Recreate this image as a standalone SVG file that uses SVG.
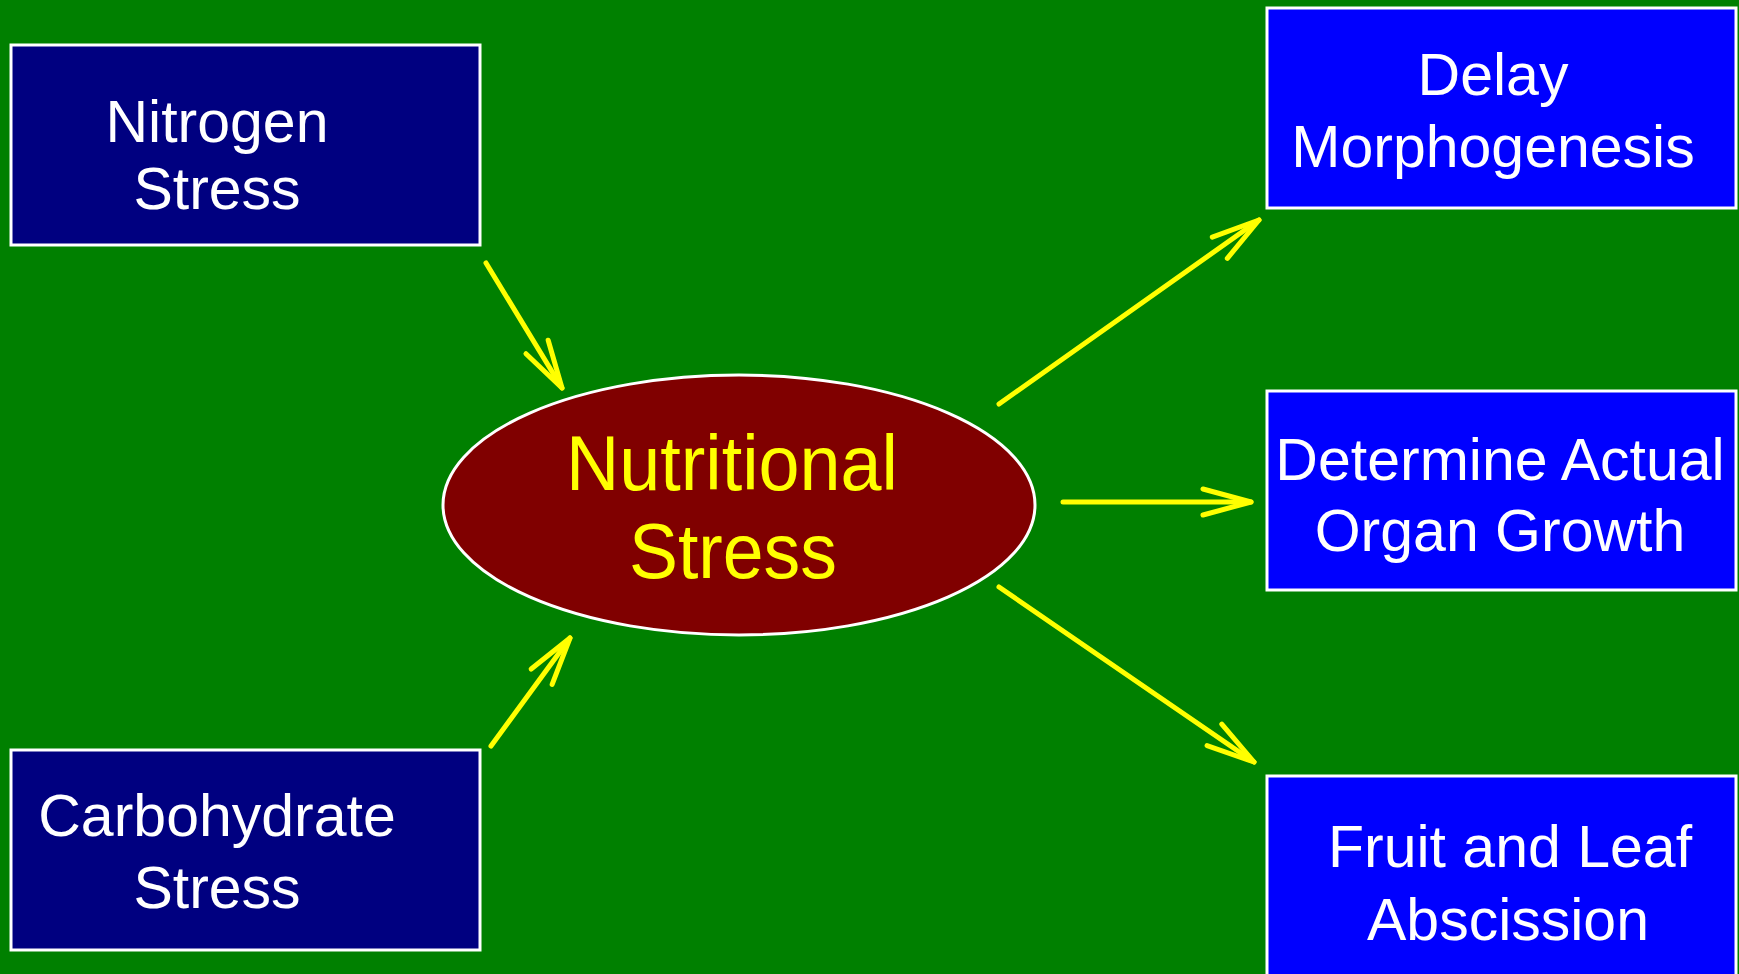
<svg xmlns="http://www.w3.org/2000/svg" width="1739" height="974" viewBox="0 0 1739 974">
<style>
.box{stroke:#FFFFFF;stroke-width:3}
.dark{fill:#000080}
.blue{fill:#0000FF}
.t{font-family:"Liberation Sans",Arial,sans-serif;font-size:59px;fill:#FFFFFF;text-anchor:middle}
.c{font-family:"Liberation Sans",Arial,sans-serif;font-size:78px;fill:#FFFF00;text-anchor:middle}
.arr{stroke:#FFFF00;stroke-width:5;stroke-linecap:round;fill:none;marker-end:url(#ah)}
</style>
<defs>
<marker id="ah" markerUnits="userSpaceOnUse" viewBox="-55 -20 60 40" markerWidth="60" markerHeight="40" refX="0" refY="0" orient="auto" overflow="visible">
<path d="M-48,-13 L0,0 L-48,13" fill="none" stroke="#FFFF00" stroke-width="5" stroke-linecap="round" stroke-linejoin="round"/>
</marker>
</defs>
<rect x="0" y="0" width="1739" height="974" fill="#008000"/>
<g id="connectors">
<line class="arr" x1="486" y1="263" x2="562" y2="388"/>
<line class="arr" x1="491" y1="746" x2="570" y2="638"/>
<line class="arr" x1="999" y1="404" x2="1259" y2="220"/>
<line class="arr" x1="1063" y1="502" x2="1251" y2="502"/>
<line class="arr" x1="999" y1="587" x2="1254" y2="762"/>
</g>
<g id="nitrogen">
<rect class="box dark" x="11" y="45" width="469" height="200"/>
<text class="t" x="217" y="142">Nitrogen</text>
<text class="t" x="217" y="209">Stress</text>
</g>
<g id="carbohydrate">
<rect class="box dark" x="11" y="750" width="469" height="200"/>
<text class="t" x="217" y="836">Carbohydrate</text>
<text class="t" x="217" y="908">Stress</text>
</g>
<g id="nutritional">
<ellipse cx="739" cy="505" rx="296" ry="130" fill="#800000" stroke="#FFFFFF" stroke-width="3"/>
<text class="c" x="732" y="490" textLength="332" lengthAdjust="spacingAndGlyphs">Nutritional</text>
<text class="c" x="733" y="578" textLength="208" lengthAdjust="spacingAndGlyphs">Stress</text>
</g>
<g id="delay">
<rect class="box blue" x="1267" y="8" width="469" height="200"/>
<text class="t" x="1493" y="95">Delay</text>
<text class="t" x="1493" y="167">Morphogenesis</text>
</g>
<g id="determine">
<rect class="box blue" x="1267" y="391" width="469" height="199"/>
<text class="t" x="1500" y="480">Determine Actual</text>
<text class="t" x="1500" y="551">Organ Growth</text>
</g>
<g id="fruit">
<rect class="box blue" x="1267" y="776" width="469" height="200"/>
<text class="t" x="1510" y="867">Fruit and Leaf</text>
<text class="t" x="1508" y="940">Abscission</text>
</g>
</svg>
